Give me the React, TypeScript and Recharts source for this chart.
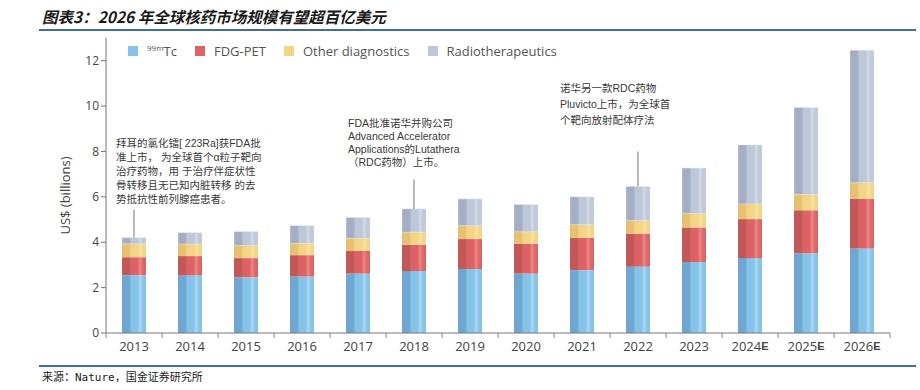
import React from 'react';
import { BarChart, Bar, XAxis, YAxis, ReferenceLine } from 'recharts';

// market size, US$ billions
const years = ['2013', '2014', '2015', '2016', '2017', '2018', '2019', '2020', '2021', '2022', '2023', '2024E', '2025E', '2026E'];
const tc99m = [2.55, 2.54, 2.46, 2.49, 2.62, 2.73, 2.82, 2.62, 2.77, 2.92, 3.13, 3.30, 3.51, 3.72];
const fdgPet = [0.79, 0.85, 0.84, 0.94, 1.01, 1.16, 1.32, 1.31, 1.42, 1.46, 1.52, 1.72, 1.90, 2.19];
const otherDiag = [0.59, 0.53, 0.55, 0.52, 0.54, 0.55, 0.59, 0.53, 0.58, 0.57, 0.62, 0.67, 0.69, 0.71];
const radioTx = [0.27, 0.50, 0.62, 0.78, 0.92, 1.03, 1.18, 1.20, 1.23, 1.51, 2.00, 2.60, 3.84, 5.84];
const yTicks = [0, 2, 4, 6, 8, 10, 12];

const noteYears = ['2013', '2018', '2022'];
const noteTops = [5.44, 6.77, 8.0];
const noteLines = [
    ['拜耳的氯化镭[ 223Ra]获FDA批', '准上市， 为全球首个α粒子靶向', '治疗药物，用 于治疗伴症状性', '骨转移且无已知内脏转移 的去', '势抵抗性前列腺癌患者。'],
    ['FDA批准诺华并购公司', 'Advanced Accelerator', 'Applications的Lutathera', '（RDC药物）上市。'],
    ['诺华另一款RDC药物', 'Pluvicto上市，为全球首', '个靶向放射配体疗法'],
];

const SERIES = [
    { key: 'tc', name: '99mTc', values: tc99m, color: '#86c3e9', dark: '#6fa6d2', light: '#a9d7f2' },
    { key: 'fdg', name: 'FDG-PET', values: fdgPet, color: '#dd6464', dark: '#c25858', light: '#ea8585' },
    { key: 'other', name: 'Other diagnostics', values: otherDiag, color: '#f3d584', dark: '#e6c172', light: '#f7e2a6' },
    { key: 'radio', name: 'Radiotherapeutics', values: radioTx, color: '#bec7d8', dark: '#a3aec4', light: '#d2d9e5' },
];

const data = years.map((year, i) => {
    const row: any = { year };
    SERIES.forEach(s => { row[s.key] = s.values[i]; });
    return row;
});

const W = 920;
const H = 390;
const MARGIN = { top: 38, right: 30, bottom: 0, left: 0 };
const Y_AXIS_W = 106;
const BAND = (W - MARGIN.left - MARGIN.right - Y_AXIS_W) / years.length;
const NOTE_POS = [
    { dx: -18, gap: 7, lh: 14 },
    { dx: -66, gap: 13, lh: 13 },
    { dx: -78, gap: 27, lh: 16 },
];

const SANS = '"Open Sans", "Noto Sans", sans-serif';
const NOTE_FONT = '"Liberation Sans", "Noto Sans CJK SC", sans-serif';

const YearTick = ({ x, y, payload, index }: any) => {
    const label: string = payload.value;
    const est = label.endsWith('E');
    const half = BAND / 2;
    return (
        <g>
            <line x1={x - half} y1={y} x2={x - half} y2={y + 5} stroke="#888" />
            {index === years.length - 1 && (
                <line x1={x + half} y1={y} x2={x + half} y2={y + 5} stroke="#888" />
            )}
            <text x={x} y={y + 18} textAnchor="middle" fill="#444" fontSize={13} fontFamily={SANS}>
                {est ? label.slice(0, -1) : label}
                {est && <tspan fontSize={11} fontWeight="bold" fontFamily='"Liberation Sans Narrow", "Liberation Sans", sans-serif' dy={-1}>E</tspan>}
            </text>
        </g>
    );
};

const YLabel = ({ viewBox }: any) => {
    const cx = viewBox.x + 70;
    const cy = viewBox.y + viewBox.height / 2 + 10;
    return (
        <text x={cx} y={cy} transform={`rotate(-90 ${cx} ${cy})`} textAnchor="middle"
            fill="#444" fontSize={13} fontFamily={SANS}>
            US$ (billions)
        </text>
    );
};

const NoteLabel = ({ viewBox, idx }: any) => {
    const lines = noteLines[idx];
    const pos = NOTE_POS[idx];
    const x = viewBox.x + pos.dx;
    const bottom = viewBox.y - pos.gap;
    return (
        <text fill="#3a3a3a" fontSize={10.5} fontFamily={NOTE_FONT}>
            {lines.map((l, i) => (
                <tspan key={i} x={x} y={bottom - (lines.length - 1 - i) * pos.lh}>{l}</tspan>
            ))}
        </text>
    );
};

function LegendRow() {
    return (
        <div style={{ position: 'absolute', left: 128, top: 42, display: 'flex', gap: 18, fontFamily: SANS, fontSize: 13, color: '#555' }}>
            {SERIES.map(s => (
                <div key={s.key} style={{ display: 'flex', alignItems: 'center' }}>
                    <span style={{ width: 10, height: 10, background: s.color, marginRight: 9, display: 'inline-block' }} />
                    {s.key === 'tc'
                        ? <span><sup style={{ fontSize: 8 }}>99m</sup>Tc</span>
                        : <span>{s.name}</span>}
                </div>
            ))}
        </div>
    );
}

export default function App() {
    const last = SERIES.length - 1;
    return (
        <div style={{ position: 'absolute', left: 0, top: 0, width: W, height: H, background: '#fff', overflow: 'hidden' }}>
            <div style={{ position: 'absolute', left: 42, top: 5, fontFamily: '"Noto Sans CJK SC", sans-serif', fontWeight: 'bold', fontStyle: 'italic', fontSize: 15.5, color: '#1a1a1a', whiteSpace: 'nowrap' }}>
                图表3：2026 年全球核药市场规模有望超百亿美元
            </div>
            <div style={{ position: 'absolute', left: 39, top: 29, width: 877, height: 2, background: '#3f6f96' }} />
            <div style={{ position: 'absolute', left: 0, top: 0 }}>
                <BarChart width={W} height={H} data={data} margin={MARGIN} barSize={24}>
                    <defs>
                        {SERIES.map(s => (
                            <linearGradient key={s.key} id={`g-${s.key}`} x1="0" y1="0" x2="1" y2="0">
                                <stop offset="0%" stopColor={s.dark} />
                                <stop offset="30%" stopColor={s.dark} />
                                <stop offset="40%" stopColor={s.color} />
                                <stop offset="65%" stopColor={s.color} />
                                <stop offset="75%" stopColor={s.light} />
                                <stop offset="90%" stopColor={s.color} />
                                <stop offset="100%" stopColor={s.color} />
                            </linearGradient>
                        ))}
                    </defs>
                    <XAxis dataKey="year" height={H - 333} tickLine={false} tickSize={0} tickMargin={0}
                        axisLine={{ stroke: '#777' }} tick={<YearTick />} interval={0} />
                    <YAxis width={Y_AXIS_W} domain={[0, 13]} ticks={yTicks} tickSize={5}
                        axisLine={{ stroke: '#777' }} tickLine={{ stroke: '#777' }}
                        tick={{ fill: '#444', fontSize: 12, fontFamily: SANS }}
                        label={<YLabel />} />
                    {SERIES.map((s, i) => (
                        <Bar key={s.key} dataKey={s.key} name={s.name} stackId="a"
                            fill={`url(#g-${s.key})`} isAnimationActive={false}
                            stroke={i === last ? '#e4e8ef' : 'none'} strokeWidth={i === last ? 0.5 : 0} />
                    ))}
                    {noteYears.map((yr, i) => (
                        <ReferenceLine key={yr}
                            segment={[
                                { x: yr, y: SERIES.reduce((t, s) => t + s.values[years.indexOf(yr)], 0) },
                                { x: yr, y: noteTops[i] },
                            ]}
                            stroke="#777" strokeWidth={1}
                            label={<NoteLabel idx={i} />} />
                    ))}
                </BarChart>
            </div>
            <LegendRow />
            <div style={{ position: 'absolute', left: 39, top: 365, width: 877, height: 2, background: '#3f6f96' }} />
            <div style={{ position: 'absolute', left: 42, top: 368, fontFamily: '"DejaVu Sans Mono", "Noto Sans CJK SC", monospace', fontSize: 11, color: '#222', whiteSpace: 'nowrap' }}>
                来源：Nature，国金证券研究所
            </div>
        </div>
    );
}
